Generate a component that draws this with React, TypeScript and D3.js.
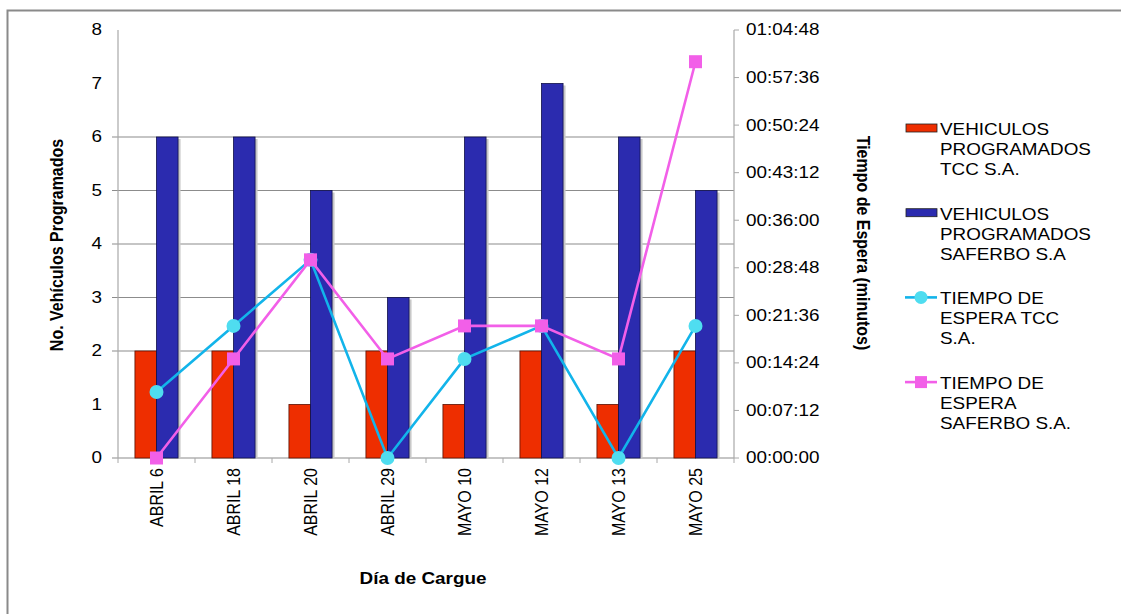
import React from "react";
import * as d3 from "d3";

// Dates of loading and programmed vehicles per carrier
const categories = ["ABRIL 6", "ABRIL 18", "ABRIL 20", "ABRIL 29", "MAYO 10", "MAYO 12", "MAYO 13", "MAYO 25"];
const vehiculosTcc = [2, 2, 1, 2, 1, 2, 1, 2];
const vehiculosSaferbo = [6, 6, 5, 3, 6, 7, 6, 5];
// Waiting time in minutes
const esperaTcc = [10, 20, 30, 0, 15, 20, 0, 20];
const esperaSaferbo = [0, 15, 30, 15, 20, 20, 15, 60];

const leftTicks = [0, 1, 2, 3, 4, 5, 6, 7, 8];
const gridValues = [0, 2, 3, 4, 5, 6];
const rightTicks = d3.range(0, 3888 + 1, 432); // seconds, every 7:12

const legendItems = [
  { lines: ["VEHICULOS", "PROGRAMADOS", "TCC S.A."], kind: "bar", color: "#EE2E00" },
  { lines: ["VEHICULOS", "PROGRAMADOS", "SAFERBO S.A"], kind: "bar", color: "#2B2BAF" },
  { lines: ["TIEMPO DE", "ESPERA TCC", "S.A."], kind: "circle", color: "#12B4EA" },
  { lines: ["TIEMPO DE", "ESPERA", "SAFERBO S.A."], kind: "square", color: "#F25FE8" },
];

const W = 1121;
const H = 614;
const left = 118;
const right = 734;
const top = 30;
const bottom = 458;
const SX = 1.18; // horizontal text stretch
const FONT = "'Liberation Sans', Arial, sans-serif";

const fmtTime = (s: number) => {
  const h = Math.floor(s / 3600);
  const m = Math.floor((s % 3600) / 60);
  const sec = s % 60;
  const p = (n: number) => String(n).padStart(2, "0");
  return `${p(h)}:${p(m)}:${p(sec)}`;
};

function T(props: {
  x: number;
  y: number;
  rotate?: number;
  anchor?: string;
  bold?: boolean;
  size?: number;
  baseline?: string;
  children: React.ReactNode;
}) {
  const { x, y, rotate = 0, anchor = "start", bold = false, size = 16, baseline } = props;
  return (
    <text
      transform={`translate(${x},${y}) scale(${SX},1) rotate(${rotate})`}
      textAnchor={anchor}
      dominantBaseline={baseline}
      fontFamily={FONT}
      fontSize={size}
      fontWeight={bold ? "bold" : "normal"}
      fill="#000"
    >
      {props.children}
    </text>
  );
}

export default function App() {
  const x = d3.scaleBand<string>().domain(categories).range([left, right]).paddingInner(0.44).paddingOuter(0.22);
  const xCat = d3.scaleBand<string>().domain(categories).range([left, right]).padding(0);
  const sub = d3.scaleBand<string>().domain(["tcc", "saf"]).range([0, x.bandwidth()]).padding(0);
  const yL = d3.scaleLinear().domain([0, 8]).range([bottom, top]);
  const yR = d3.scaleLinear().domain([0, 3888]).range([bottom, top]);
  const cx = (c: string) => (xCat(c) as number) + xCat.bandwidth() / 2;

  const line = d3
    .line<number>()
    .x((_, i) => cx(categories[i]))
    .y((m) => yR(m * 60));

  const bw = sub.bandwidth();

  return (
    <svg
      width={W}
      height={H}
      style={{ position: "absolute", left: 0, top: 0, background: "#fff" }}
    >
      {/* chart frame */}
      <path d={`M7.5,${H + 5} V10.5 H${W + 5}`} fill="none" stroke="#8a8a8a" strokeWidth={2} />

      {/* gridlines */}
      {gridValues.map((v) => (
        <line key={v} x1={left - 6} x2={right} y1={yL(v)} y2={yL(v)} stroke="#8c8c8c" strokeWidth={1.2} />
      ))}

      {/* axes */}
      <line x1={left} x2={left} y1={top} y2={bottom} stroke="#a8a8a8" strokeWidth={1.2} />
      <line x1={right} x2={right} y1={top} y2={bottom} stroke="#a8a8a8" strokeWidth={1.2} />
      {rightTicks.map((t) => (
        <line key={t} x1={right} x2={right + 5} y1={yR(t)} y2={yR(t)} stroke="#a8a8a8" />
      ))}
      {d3.range(categories.length + 1).map((i) => {
        const xx = left + i * xCat.step();
        return <line key={i} x1={xx} x2={xx} y1={bottom} y2={bottom + 5} stroke="#a8a8a8" />;
      })}

      {/* bars */}
      {categories.map((c, i) => {
        const x0 = x(c) as number;
        const xs = x0 + (sub("saf") as number);
        return (
          <g key={c}>
            <rect x={xs + bw} y={yL(vehiculosSaferbo[i]) + 2} width={2.5} height={bottom - yL(vehiculosSaferbo[i]) - 2} fill="#c8c8c8" />
            <rect
              x={x0 + (sub("tcc") as number)}
              y={yL(vehiculosTcc[i])}
              width={bw}
              height={bottom - yL(vehiculosTcc[i])}
              fill="#EE2E00"
              stroke="#5a1000"
              strokeWidth={0.8}
            />
            <rect
              x={xs}
              y={yL(vehiculosSaferbo[i])}
              width={bw}
              height={bottom - yL(vehiculosSaferbo[i])}
              fill="#2B2BAF"
              stroke="#10104a"
              strokeWidth={0.8}
            />
          </g>
        );
      })}

      {/* waiting time lines */}
      <path d={line(esperaTcc) || ""} fill="none" stroke="#12B4EA" strokeWidth={2.6} />
      {esperaTcc.map((m, i) => (
        <circle key={i} cx={cx(categories[i])} cy={yR(m * 60)} r={7} fill="#4FDDF0" />
      ))}
      <path d={line(esperaSaferbo) || ""} fill="none" stroke="#F25FE8" strokeWidth={2.6} />
      {esperaSaferbo.map((m, i) => (
        <rect key={i} x={cx(categories[i]) - 6.5} y={yR(m * 60) - 6.5} width={13} height={13} fill="#F25FE8" />
      ))}

      {/* left tick labels */}
      {leftTicks.map((v) => (
        <T key={v} x={102} y={yL(v)} anchor="end" baseline="central">
          {v}
        </T>
      ))}
      {/* right tick labels */}
      {rightTicks.map((t) => (
        <T key={t} x={746} y={yR(t)} baseline="central">
          {fmtTime(t)}
        </T>
      ))}
      {/* category labels */}
      {categories.map((c) => (
        <T key={c} x={cx(c)} y={bottom + 10} rotate={-90} anchor="end" baseline="central">
          {c}
        </T>
      ))}

      {/* axis titles */}
      <T x={57} y={245} rotate={-90} anchor="middle" baseline="central" bold>
        No. Vehículos Programados
      </T>
      <T x={863} y={243} rotate={90} anchor="middle" baseline="central" bold>
        Tiempo de Espera (minutos)
      </T>
      <T x={423} y={584} anchor="middle" bold>
        Día de Cargue
      </T>

      {/* legend */}
      {legendItems.map((it, k) => {
        const y0 = 135 + k * 84.7;
        const sy = y0 - 7;
        return (
          <g key={k}>
            {it.kind === "bar" ? (
              <rect x={906} y={sy - 4} width={31} height={8} fill={it.color} stroke="#222" strokeWidth={0.8} />
            ) : (
              <g>
                <line x1={905} x2={937} y1={sy} y2={sy} stroke={it.color} strokeWidth={2.6} />
                {it.kind === "circle" ? (
                  <circle cx={921} cy={sy} r={6.5} fill="#4FDDF0" />
                ) : (
                  <rect x={915} y={sy - 6} width={12} height={12} fill={it.color} />
                )}
              </g>
            )}
            {it.lines.map((ln, j) => (
              <T key={j} x={940} y={y0 + j * 20}>
                {ln}
              </T>
            ))}
          </g>
        );
      })}
    </svg>
  );
}
